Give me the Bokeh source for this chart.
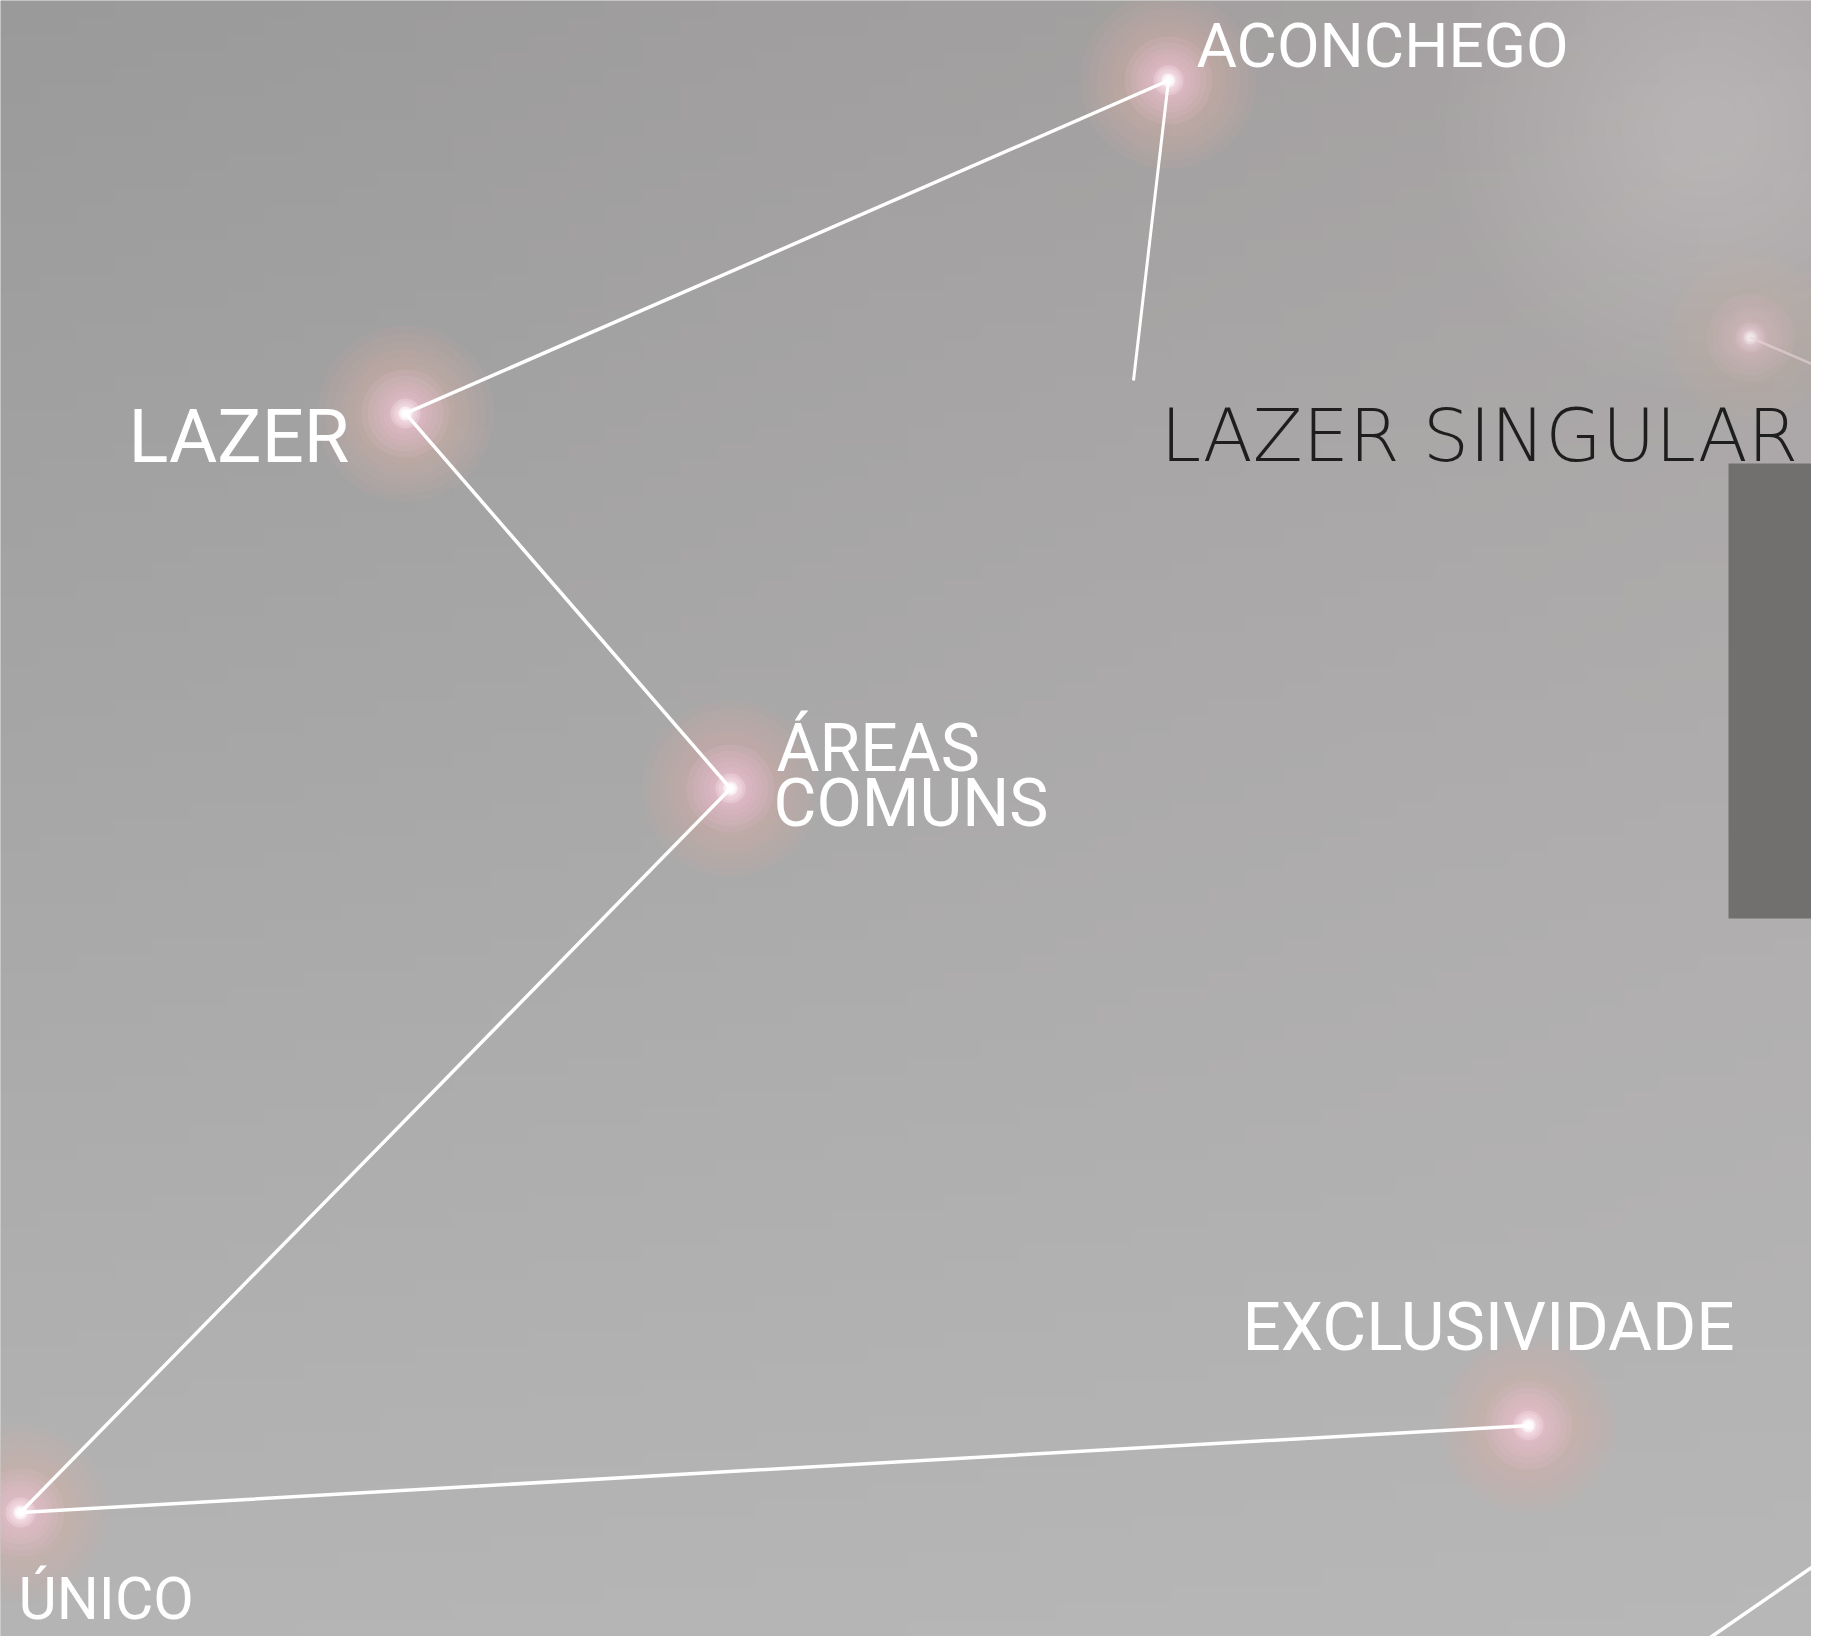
import numpy as np
from bokeh.plotting import figure
from bokeh.models import Range1d, ColumnDataSource
from bokeh.core.properties import value
from bokeh.embed import file_html
from bokeh.resources import INLINE

# ---- data (reference pixel coordinates) ----
star_names = ["ACONCHEGO", "LAZER", "ÁREAS COMUNS", "ÚNICO", "EXCLUSIVIDADE"]
star_x = [1168, 405, 730, 20, 1528]
star_y = [80, 413, 788, 1512, 1425]

# constellation path: EXCLUSIVIDADE -> ÚNICO -> ÁREAS -> LAZER -> ACONCHEGO -> tail
path_x = [1528, 20, 730, 405, 1168, 1133]
path_y = [1425, 1512, 788, 413, 80, 380]

labels = ["ACONCHEGO", "LAZER", "ÁREAS", "COMUNS", "ÚNICO", "EXCLUSIVIDADE"]
label_x = [1196, 128, 776, 773, 18, 1242]
label_baseline = [67, 463, 772, 827, 1619, 1350]
label_px = [62, 74, 66, 66, 59, 67.5]

title_text = ["LAZER SINGULAR"]
title_x = [1160]
title_baseline = [462]
title_px = 73

# faint elements at the right edge
side_star_x = [1750]
side_star_y = [337]
side_line_x = [[1750, 1840], [1688, 1840]]
side_line_y = [[337, 376], [1652, 1547]]
haze_x = [1705]
haze_y = [130]

panel_left, panel_right = [1728], [1840]
panel_top, panel_bottom = [463], [918]

# ---- figure ----
W, H = 1811, 1636
p = figure(width=W, height=H, x_range=Range1d(0, W), y_range=Range1d(H, 0),
           x_axis_type=None, y_axis_type=None, output_backend="svg",
           toolbar_location=None, min_border=0)
p.grid.visible = False
p.outline_line_color = None
p.background_fill_color = "#a8a8a8"
p.border_fill_color = "#a8a8a8"

# background gradient (row 0 = top of the picture)
rows, cols = 96, 48
tl = np.array([154.0, 154, 154]); tr = np.array([168.0, 163, 164])
bl = np.array([180.0, 180, 180]); br = np.array([183.0, 183, 183])
img = np.empty((rows, cols), dtype=np.uint32)
view = img.view(dtype=np.uint8).reshape((rows, cols, 4))
for i in range(rows):
    fy = i / (rows - 1)
    left = tl * (1 - fy) + bl * fy
    right = tr * (1 - fy) + br * fy
    for j in range(cols):
        fx = j / (cols - 1)
        c = left * (1 - fx) + right * fx
        view[i, j, 0:3] = np.round(c).astype(np.uint8)
        view[i, j, 3] = 255
p.image_rgba(image=[img], x=0, y=0, dw=W, dh=H)

# soft haze top right
for r in range(260, 20, -16):
    p.scatter(x=haze_x, y=haze_y, size=2 * r, fill_color="#d8d2d4", fill_alpha=0.026, line_color=None)

# dark panel
p.quad(left=panel_left, right=panel_right, top=panel_top, bottom=panel_bottom,
       fill_color="#72706f", line_color=None)

# glows
def glow(xs, ys, scale=1.0, strength=1.0):
    layers = []
    for r in [88, 80, 72, 64, 57, 50]:
        layers.append((r, "#d6b5a2", 0.10))
    for r in [44, 38, 32, 27, 22, 18]:
        layers.append((r, "#edc0d1", 0.16))
    for r in [15, 12, 9.5]:
        layers.append((r, "#f8e2ea", 0.35))
    for r in [7, 5, 3.5]:
        layers.append((r, "#ffffff", 0.6))
    for r, c, a in layers:
        p.scatter(x=xs, y=ys, size=2 * r * scale, fill_color=c,
                  fill_alpha=min(1.0, a * strength), line_color=None)

glow(star_x, star_y)
glow(side_star_x, side_star_y, scale=1.0, strength=0.45)

# side lines
p.multi_line(xs=[side_line_x[0]], ys=[side_line_y[0]], line_color="#ead6d8", line_width=2.5, line_alpha=0.6)
p.multi_line(xs=[side_line_x[1]], ys=[side_line_y[1]], line_color="#ffffff", line_width=3.5)

# constellation lines
p.line(x=path_x[:5], y=path_y[:5], line_color="#ffffff", line_width=3.5, line_join="miter")
p.line(x=path_x[4:], y=path_y[4:], line_color="#ffffff", line_width=3)

# labels (anchor shifted so the alphabetic baseline lands on the measured line)
SHIFT = 0.36
src = ColumnDataSource(dict(
    x=label_x,
    y=[b - SHIFT * s for b, s in zip(label_baseline, label_px)],
    text=labels,
    size=["%gpx" % s for s in label_px]))
p.text(x="x", y="y", text="text", text_font_size="size", source=src,
       text_font=value("Roboto"), text_color="#ffffff",
       text_baseline="alphabetic", text_align="left")

p.text(x=title_x, y=[b - 0.37 * title_px for b in title_baseline], text=title_text,
       text_font=value("DejaVu Sans Light, DejaVu Sans"),
       text_font_size="%dpx" % title_px, text_color="#1e1e1e",
       text_baseline="alphabetic", text_align="left")

open("out.html", "w").write(file_html(p, INLINE))
